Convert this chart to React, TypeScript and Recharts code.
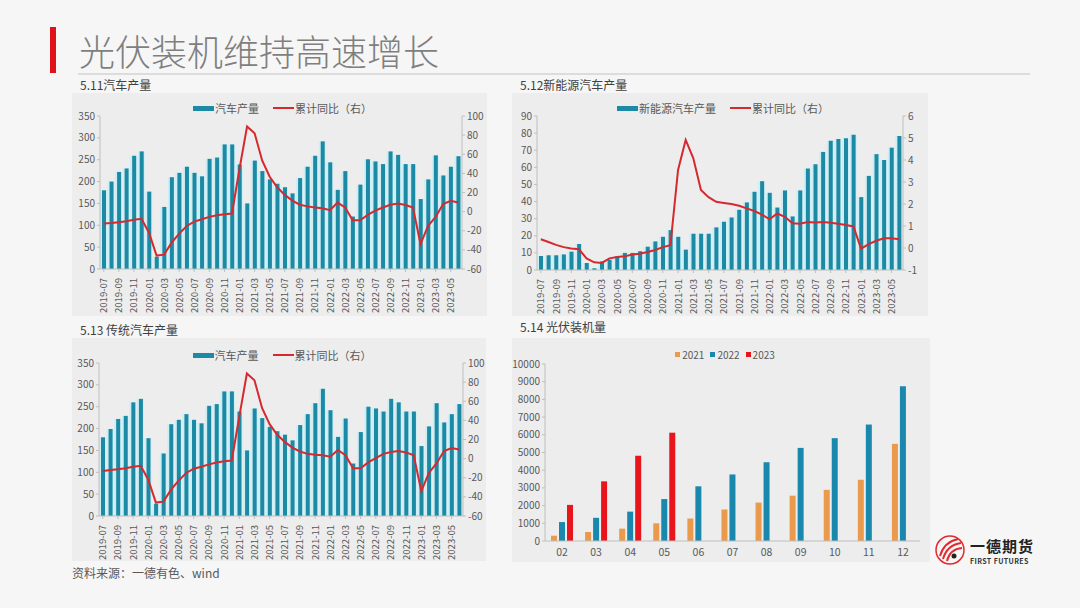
import { ComposedChart, BarChart, Bar, Line, XAxis, YAxis } from "recharts";

const FONT = '"Noto Sans CJK SC", "Noto Sans", sans-serif';
const AXIS = "#bfbfbf";
const TEXT = "#595959";
const TEAL = "#1c8aa5";
const PALE = "#cdeef5";
const RED = "#d42a2f";

const months = [
  "2019-07", "2019-08", "2019-09", "2019-10", "2019-11", "2019-12",
  "2020-01", "2020-02", "2020-03", "2020-04", "2020-05", "2020-06",
  "2020-07", "2020-08", "2020-09", "2020-10", "2020-11", "2020-12",
  "2021-01", "2021-02", "2021-03", "2021-04", "2021-05", "2021-06",
  "2021-07", "2021-08", "2021-09", "2021-10", "2021-11", "2021-12",
  "2022-01", "2022-02", "2022-03", "2022-04", "2022-05", "2022-06",
  "2022-07", "2022-08", "2022-09", "2022-10", "2022-11", "2022-12",
  "2023-01", "2023-02", "2023-03", "2023-04", "2023-05", "2023-06",
];

// 汽车产量 (万辆) and 累计同比 (%)
const autoOutput = [
  180, 200, 222, 230, 259, 269,
  177, 28, 142, 210, 220, 234, 220, 212, 252, 255, 285, 285,
  239, 150, 248, 224, 205, 195, 187, 173, 208, 234, 259, 292,
  244, 181, 224, 120, 193, 251, 246, 240, 269, 261, 240, 240,
  160, 205, 260, 214, 234, 258,
];
const autoYoY = [
  -12.5, -12, -11, -10, -8.5, -7.5,
  -22, -46, -45, -32.5, -23, -15, -10.5, -8, -5.5, -3.7, -2.7, -2,
  45, 89, 82, 53.5, 36.5, 25.5, 17.5, 11.5, 7.2, 5.5, 4.3, 3.5,
  1.5, 9.5, 4.3, -9, -9, -3.4, 1, 4.3, 7.2, 8.5, 7, 4.3,
  -34, -15, -5.5, 8, 11.4, 9.6,
];

// 传统汽车产量 (read from 5.13)
const tradOutput = [
  180, 199, 222, 229, 260, 268,
  178, 28, 143, 210, 220, 233, 220, 212, 252, 256, 285, 285,
  239, 150, 246, 224, 204, 194, 186, 173, 208, 233, 258, 291,
  242, 181, 223, 120, 192, 250, 246, 239, 268, 260, 239, 239,
  160, 205, 258, 214, 233, 256,
];
const tradYoY = [
  -13, -12, -11, -10, -8.5, -7.5,
  -22, -46, -45, -32.5, -23, -15, -10.5, -8.5, -6, -4, -2.7, -2,
  44, 89, 82, 53, 36, 25, 17.5, 11.5, 7.5, 5, 4, 3.5,
  2, 9, 3.5, -10, -10, -4, 0.5, 5, 7, 8, 6.5, 3.5,
  -34, -15, -5, 8, 11, 9.5,
];

// 新能源汽车产量 (万辆) and 累计同比 (倍)
const nevOutput = [
  8.2, 8.6, 8.6, 9.1, 10.7, 15.2,
  4.1, 1, 5, 6, 8, 10, 10, 11, 13.6, 16.7, 19.4, 23.3,
  19.4, 11.9, 21.2, 21.2, 21.2, 24.9, 28.2, 30.7, 35.2, 39.5, 45.7, 51.9,
  45.1, 36.5, 46.5, 31.3, 46.5, 59.3, 61.8, 69, 75.6, 76.6, 77, 79,
  42.6, 55, 67.7, 64.3, 71.5, 78.3,
];
const nevYoY = [
  0.4, 0.27, 0.14, 0.04, -0.02, -0.06,
  -0.47, -0.65, -0.68, -0.47, -0.41, -0.38, -0.3, -0.26, -0.18, -0.09, 0.04, 0.13,
  3.55, 4.91, 4.08, 2.64, 2.31, 2.1, 2.05, 2.0, 1.92, 1.8, 1.68, 1.52,
  1.3, 1.57, 1.42, 1.12, 1.1, 1.18, 1.16, 1.18, 1.15, 1.1, 1.05, 0.98,
  -0.03, 0.18, 0.33, 0.44, 0.44, 0.4,
];

// 光伏装机量 (累计)
const pvMonths = ["02", "03", "04", "05", "06", "07", "08", "09", "10", "11", "12"];
const pv2021 = [300, 510, 700, 1000, 1270, 1780, 2170, 2560, 2890, 3460, 5490];
const pv2022 = [1070, 1310, 1660, 2370, 3090, 3760, 4450, 5260, 5810, 6580, 8740];
const pv2023 = [2040, 3370, 4820, 6120, null, null, null, null, null, null, null];

const autoTicks = [0, 50, 100, 150, 200, 250, 300, 350];
const yoyTicks = [-60, -40, -20, 0, 20, 40, 60, 80, 100];
const nevTicks = [0, 10, 20, 30, 40, 50, 60, 70, 80, 90];
const nevYoyTicks = [-1, 0, 1, 2, 3, 4, 5, 6];
const pvTicks = [0, 1000, 2000, 3000, 4000, 5000, 6000, 7000, 8000, 9000, 10000];

const MonthTick = ({ x, y, payload }: any) => (
  <text
    x={x}
    y={y}
    transform={`rotate(-90 ${x} ${y})`}
    textAnchor="end"
    dx={-4}
    dy={3.5}
    fontSize={9.5}
    fill={TEXT}
    fontFamily={FONT}
  >
    {payload.value}
  </text>
);

const tickStyle = { fontSize: 10, fill: TEXT, fontFamily: FONT };

interface DualProps {
  left: number;
  top: number;
  width: number;
  height: number;
  title: string;
  barName: string;
  bars: number[];
  yoy: number[];
  leftTicks: number[];
  rightTicks: number[];
  padLeft: number;
  padRight: number;
  padTop: number;
  padBottom: number;
}

function DualPanel(p: DualProps) {
  const data = months.map((m, i) => ({ m, v: p.bars[i], r: p.yoy[i] }));
  return (
    <>
      <div style={{ position: "absolute", left: p.left + 8, top: p.top - 17, fontSize: 12, color: "#404040", fontFamily: FONT }}>
        {p.title}
      </div>
      <div style={{ position: "absolute", left: p.left, top: p.top, width: p.width, height: p.height, background: "#ededed" }}>
        <ComposedChart
          width={p.width}
          height={p.height}
          data={data}
          margin={{ top: p.padTop, right: 0, left: 0, bottom: 0 }}
        >
          <XAxis xAxisId="bg" dataKey="m" hide />
          <XAxis
            dataKey="m"
            height={p.padBottom}
            interval={1}
            tick={<MonthTick />}
            stroke={AXIS}
            tickSize={3}
          />
          <YAxis
            yAxisId="left"
            width={p.padLeft}
            domain={[p.leftTicks[0], p.leftTicks[p.leftTicks.length - 1]]}
            ticks={p.leftTicks}
            interval={0}
            tick={tickStyle}
            stroke={AXIS}
            tickSize={3}
          />
          <YAxis
            yAxisId="right"
            orientation="right"
            width={p.padRight}
            domain={[p.rightTicks[0], p.rightTicks[p.rightTicks.length - 1]]}
            ticks={p.rightTicks}
            interval={0}
            tick={tickStyle}
            stroke={AXIS}
            tickSize={3}
          />
          {/* pale halo behind every bar, then the bar itself */}
          <Bar xAxisId="bg" yAxisId="left" dataKey="v" fill={PALE} barSize={7} isAnimationActive={false} />
          <Bar yAxisId="left" dataKey="v" fill={TEAL} barSize={4} isAnimationActive={false} />
          <Line
            yAxisId="right"
            dataKey="r"
            stroke={RED}
            strokeWidth={2}
            dot={false}
            type="linear"
            isAnimationActive={false}
          />
        </ComposedChart>
        <div
          style={{
            position: "absolute",
            left: 0,
            right: 0,
            top: p.padTop - 16,
            display: "flex",
            justifyContent: "center",
            alignItems: "center",
            fontSize: 11,
            color: TEXT,
            fontFamily: FONT,
            paddingLeft: 6,
          }}
        >
          <span style={{ width: 21, height: 5, background: TEAL, display: "inline-block", marginRight: 1 }} />
          <span style={{ marginRight: 14 }}>{p.barName}</span>
          <span style={{ width: 21, height: 2, background: RED, display: "inline-block", marginRight: 1 }} />
          <span>累计同比（右）</span>
        </div>
      </div>
    </>
  );
}

function PvPanel() {
  const data = pvMonths.map((m, i) => ({ m, a: pv2021[i], b: pv2022[i], c: pv2023[i] }));
  const items = [
    { name: "2021", color: "#ea9a4d" },
    { name: "2022", color: "#1a88ad" },
    { name: "2023", color: "#e8161c" },
  ];
  return (
    <>
      <div style={{ position: "absolute", left: 520, top: 318, fontSize: 12, color: "#404040", fontFamily: FONT }}>
        5.14 光伏装机量
      </div>
      <div style={{ position: "absolute", left: 512, top: 338, width: 418, height: 224, background: "#ededed" }}>
        <BarChart
          width={418}
          height={224}
          data={data}
          margin={{ top: 26, right: 10, left: 0, bottom: 0 }}
          barGap={2}
        >
          <XAxis dataKey="m" height={21} stroke={AXIS} tickLine={false} tick={{ ...tickStyle, fontSize: 10.5 }} />
          <YAxis
            width={33}
            domain={[0, 10000]}
            ticks={pvTicks}
            interval={0}
            tick={tickStyle}
            stroke={AXIS}
            tickSize={3}
          />
          <Bar dataKey="a" fill={items[0].color} barSize={6} isAnimationActive={false} />
          <Bar dataKey="b" fill={items[1].color} barSize={6} isAnimationActive={false} />
          <Bar dataKey="c" fill={items[2].color} barSize={6} isAnimationActive={false} />
        </BarChart>
        <div
          style={{
            position: "absolute",
            left: 0,
            right: 0,
            top: 9,
            display: "flex",
            justifyContent: "center",
            alignItems: "center",
            fontSize: 10,
            color: TEXT,
            fontFamily: FONT,
            paddingLeft: 14,
          }}
        >
          {items.map((it) => (
            <span key={it.name} style={{ display: "inline-flex", alignItems: "center", marginRight: 6 }}>
              <span style={{ width: 5, height: 5, background: it.color, display: "inline-block", marginRight: 2 }} />
              {it.name}
            </span>
          ))}
        </div>
      </div>
    </>
  );
}

function Logo() {
  return (
    <div style={{ position: "absolute", left: 934, top: 533, width: 120, height: 36, fontFamily: FONT }}>
      <svg width={32} height={32} style={{ position: "absolute", left: 0, top: 1 }}>
        <circle cx={16} cy={16} r={14} fill="none" stroke="#e02a2f" strokeWidth={1.5} />
        <path d="M6 22 Q10 8 24 5" fill="none" stroke="#e02a2f" strokeWidth={2} />
        <path d="M9 25 Q13 11 27 9" fill="none" stroke="#e02a2f" strokeWidth={2} />
        <path d="M13 27 Q16 15 28 14" fill="none" stroke="#e02a2f" strokeWidth={2} />
        <circle cx={20} cy={22} r={2.5} fill="#222" />
      </svg>
      <div style={{ position: "absolute", left: 36, top: 4, fontSize: 15, lineHeight: "17px", fontWeight: 700, color: "#222", letterSpacing: 1 }}>
        一德期货
      </div>
      <div style={{ position: "absolute", left: 36, top: 24, fontSize: 7, lineHeight: "8px", fontWeight: 700, color: "#333", letterSpacing: 0.4 }}>
        FIRST FUTURES
      </div>
    </div>
  );
}

export default function App() {
  return (
    <div
      style={{
        position: "absolute",
        left: 0,
        top: 0,
        width: 1080,
        height: 608,
        background: "#f6f6f6",
        overflow: "hidden",
        fontFamily: FONT,
      }}
    >
      <div style={{ position: "absolute", left: 50, top: 27, width: 6, height: 46, background: "#e0121a" }} />
      <div style={{ position: "absolute", left: 79, top: 25, fontSize: 36, color: "#7f7f7f", fontWeight: 300, lineHeight: "50px" }}>
        光伏装机维持高速增长
      </div>
      <div style={{ position: "absolute", left: 78, top: 73, width: 952, height: 2, background: "#dcdcdc" }} />

      <DualPanel
        left={72}
        top={93}
        width={415}
        height={223}
        title="5.11汽车产量"
        barName="汽车产量"
        bars={autoOutput}
        yoy={autoYoY}
        leftTicks={autoTicks}
        rightTicks={yoyTicks}
        padLeft={28}
        padRight={25}
        padTop={23}
        padBottom={47}
      />
      <DualPanel
        left={512}
        top={93}
        width={416}
        height={223}
        title="5.12新能源汽车产量"
        barName="新能源汽车产量"
        bars={nevOutput}
        yoy={nevYoY}
        leftTicks={nevTicks}
        rightTicks={nevYoyTicks}
        padLeft={25}
        padRight={25}
        padTop={23}
        padBottom={46}
      />
      <DualPanel
        left={72}
        top={338}
        width={414}
        height={223}
        title="5.13 传统汽车产量"
        barName="汽车产量"
        bars={tradOutput}
        yoy={tradYoY}
        leftTicks={autoTicks}
        rightTicks={yoyTicks}
        padLeft={27}
        padRight={23}
        padTop={25}
        padBottom={45}
      />
      <PvPanel />

      <div style={{ position: "absolute", left: 72, top: 564, fontSize: 12, color: TEXT }}>
        资料来源：一德有色、wind
      </div>
      <Logo />
    </div>
  );
}
